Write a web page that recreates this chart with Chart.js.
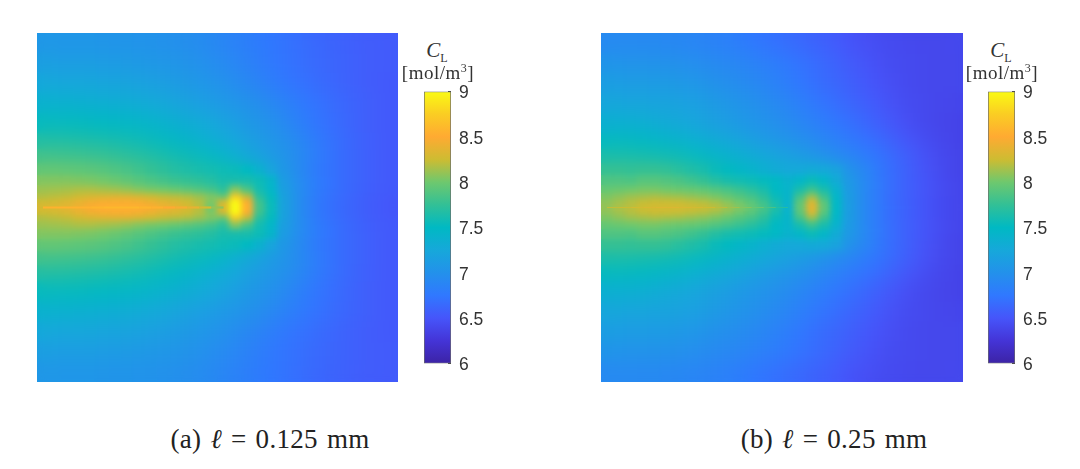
<!DOCTYPE html>
<html>
<head>
<meta charset="utf-8">
<title>CL</title>
<script src="https://cdn.jsdelivr.net/npm/chart.js@4"></script>
<style>
  body { margin: 0; background: #fff; width: 1080px; height: 469px; overflow: hidden; position: relative; }
  .box { position: absolute; }
  .lbl { position: absolute; font-family: "Liberation Serif", serif; color: #333; white-space: nowrap; transform: translateX(-50%); }
  .lbl i sub { font-style: normal; font-size: 12px; }
  .lbl sup { font-size: 12px; line-height: 0; }
  .unit { font-size: 19px; letter-spacing: 0.5px; }
  .cap { font-size: 27px; color: #222; letter-spacing: 0.3px; word-spacing: 2px; }
</style>
</head>
<body>
<div class="box" style="left:37px;top:33px;width:361px;height:349px"><canvas id="heatA"></canvas></div>
<div class="box" style="left:601px;top:33px;width:362px;height:349px"><canvas id="heatB"></canvas></div>
<div class="box" style="left:424px;top:70px;width:70px;height:315px"><canvas id="barA"></canvas></div>
<div class="box" style="left:988px;top:70px;width:70px;height:315px"><canvas id="barB"></canvas></div>

<div class="lbl" style="left:437px;top:38px;font-size:21px"><i>C<sub>L</sub></i></div>
<div class="lbl unit" style="left:438px;top:62px">[mol/m<sup>3</sup>]</div>
<div class="lbl" style="left:1001px;top:38px;font-size:21px"><i>C<sub>L</sub></i></div>
<div class="lbl unit" style="left:1002px;top:62px">[mol/m<sup>3</sup>]</div>
<div class="lbl cap" style="left:270px;top:424px">(a) <i>ℓ</i> = 0.125 mm</div>
<div class="lbl cap" style="left:834px;top:424px">(b) <i>ℓ</i> = 0.25 mm</div>

<script>
// columns across each panel
const columns = ['c0','c1','c2','c3','c4','c5','c6','c7','c8','c9','c10','c11','c12','c13','c14',
  'c15','c16','c17','c18','c19','c20','c21','c22','c23','c24','c25','c26','c27','c28','c29'];
// band thickness from the top edge to the crack line (mirrored below it)
const bands = [20, 20, 20, 20, 20, 16, 14, 12, 10, 8, 6, 4, 4];

// panel (a), concentration per band, top to crack line
const a0 = [7.06,7.06,7.05,7.05,7.05,7.04,7.03,7.03,7.02,7.01,7.0,6.99,6.97,6.95,6.92,6.89,6.85,6.82,6.78,6.75,6.72,6.69,6.66,6.63,6.61,6.59,6.57,6.56,6.55,6.54];
const a1 = [7.14,7.14,7.13,7.13,7.13,7.12,7.11,7.1,7.09,7.07,7.06,7.04,7.02,7.0,6.96,6.93,6.89,6.85,6.81,6.76,6.73,6.7,6.67,6.64,6.62,6.6,6.58,6.56,6.55,6.54];
const a2 = [7.25,7.25,7.24,7.24,7.23,7.22,7.21,7.2,7.18,7.16,7.14,7.12,7.09,7.06,7.03,7.0,6.95,6.91,6.86,6.81,6.76,6.72,6.69,6.66,6.63,6.6,6.58,6.56,6.54,6.53];
const a3 = [7.38,7.38,7.37,7.36,7.35,7.34,7.33,7.31,7.29,7.27,7.25,7.22,7.18,7.15,7.12,7.08,7.04,7.01,6.97,6.91,6.86,6.8,6.75,6.71,6.67,6.63,6.6,6.57,6.55,6.53];
const a4 = [7.53,7.53,7.52,7.52,7.51,7.5,7.49,7.47,7.45,7.42,7.39,7.36,7.33,7.29,7.25,7.2,7.15,7.09,7.04,7.0,6.93,6.86,6.78,6.73,6.68,6.64,6.6,6.57,6.55,6.53];
const a5 = [7.68,7.68,7.67,7.66,7.65,7.64,7.62,7.6,7.58,7.55,7.52,7.49,7.44,7.39,7.34,7.29,7.24,7.18,7.12,7.06,7.01,6.94,6.86,6.77,6.71,6.66,6.61,6.58,6.55,6.53];
const a6 = [7.82,7.82,7.81,7.8,7.79,7.77,7.75,7.73,7.7,7.67,7.64,7.6,7.57,7.54,7.51,7.44,7.34,7.25,7.18,7.1,7.03,6.97,6.88,6.78,6.72,6.66,6.62,6.58,6.55,6.53];
const a7 = [7.95,7.95,7.94,7.93,7.92,7.9,7.87,7.84,7.8,7.76,7.72,7.68,7.65,7.62,7.6,7.57,7.55,7.5,7.38,7.22,7.07,6.96,6.84,6.75,6.7,6.66,6.62,6.58,6.55,6.53];
const a8 = [8.05,8.05,8.05,8.04,8.03,8.01,7.98,7.94,7.9,7.86,7.82,7.78,7.75,7.72,7.68,7.62,7.62,7.62,7.56,7.42,7.12,6.99,6.88,6.78,6.72,6.66,6.62,6.58,6.55,6.53];
const a9 = [8.12,8.13,8.14,8.16,8.16,8.14,8.12,8.09,8.05,8.02,8.0,7.96,7.92,7.88,7.82,7.72,8.05,7.85,7.6,7.45,7.14,7.0,6.88,6.78,6.72,6.66,6.62,6.58,6.55,6.53];
const a10 = [8.18,8.2,8.22,8.26,8.3,8.32,8.33,8.33,8.3,8.26,8.22,8.2,8.17,8.12,8.05,7.95,8.7,8.2,7.7,7.52,7.19,7.0,6.86,6.76,6.7,6.65,6.61,6.57,6.54,6.52];
const a11 = [8.25,8.28,8.32,8.38,8.42,8.46,8.48,8.48,8.44,8.38,8.33,8.3,8.25,8.18,8.05,8.3,9.0,8.5,7.8,7.54,7.2,7.0,6.86,6.75,6.69,6.64,6.6,6.56,6.53,6.51];
const a12 = [8.3,8.32,8.36,8.42,8.48,8.52,8.54,8.54,8.52,8.48,8.42,8.37,8.3,8.2,8.0,8.3,9.0,8.55,7.82,7.55,7.2,7.0,6.85,6.74,6.68,6.63,6.59,6.56,6.53,6.51];

// panel (b)
const b0 = [6.93,6.93,6.93,6.92,6.92,6.91,6.9,6.89,6.87,6.85,6.83,6.8,6.76,6.73,6.7,6.67,6.64,6.61,6.58,6.54,6.5,6.47,6.45,6.43,6.42,6.41,6.4,6.4,6.4,6.41];
const b1 = [7.03,7.03,7.02,7.02,7.01,7.0,6.99,6.97,6.95,6.93,6.91,6.89,6.86,6.83,6.8,6.76,6.72,6.68,6.64,6.6,6.55,6.52,6.48,6.45,6.43,6.42,6.41,6.4,6.4,6.4];
const b2 = [7.13,7.13,7.12,7.12,7.11,7.1,7.08,7.06,7.03,7.0,6.98,6.95,6.92,6.89,6.85,6.8,6.75,6.7,6.66,6.62,6.58,6.54,6.5,6.47,6.44,6.42,6.41,6.4,6.4,6.4];
const b3 = [7.23,7.23,7.22,7.22,7.21,7.2,7.18,7.16,7.13,7.1,7.06,7.03,7.0,6.96,6.92,6.88,6.83,6.77,6.72,6.68,6.63,6.59,6.55,6.5,6.46,6.43,6.42,6.4,6.39,6.39];
const b4 = [7.36,7.36,7.35,7.34,7.31,7.28,7.26,7.23,7.2,7.16,7.13,7.09,7.05,7.02,6.99,6.95,6.9,6.85,6.8,6.75,6.7,6.65,6.6,6.55,6.5,6.45,6.42,6.4,6.38,6.37];
const b5 = [7.52,7.52,7.51,7.5,7.48,7.45,7.42,7.38,7.34,7.3,7.27,7.22,7.17,7.12,7.08,7.04,7.0,6.96,6.9,6.85,6.79,6.74,6.69,6.63,6.57,6.51,6.46,6.42,6.39,6.37];
const b6 = [7.64,7.64,7.63,7.62,7.6,7.58,7.56,7.53,7.5,7.45,7.4,7.36,7.32,7.27,7.23,7.18,7.13,7.06,7.0,6.94,6.88,6.82,6.76,6.7,6.63,6.57,6.5,6.45,6.41,6.38];
const b7 = [7.76,7.76,7.75,7.76,7.76,7.74,7.7,7.66,7.62,7.55,7.51,7.46,7.41,7.35,7.3,7.26,7.26,7.28,7.26,7.2,7.05,6.96,6.83,6.72,6.64,6.58,6.5,6.46,6.41,6.38];
const b8 = [7.87,7.87,7.86,7.9,7.9,7.88,7.85,7.8,7.75,7.68,7.62,7.59,7.56,7.52,7.48,7.4,7.45,7.55,7.45,7.3,7.1,6.96,6.83,6.72,6.64,6.58,6.52,6.47,6.42,6.39];
const b9 = [7.96,7.98,8.0,8.02,8.02,8.0,7.98,7.96,7.93,7.88,7.83,7.77,7.7,7.62,7.5,7.42,7.62,7.78,7.62,7.4,7.12,6.96,6.83,6.72,6.64,6.58,6.52,6.47,6.42,6.39];
const b10 = [8.04,8.08,8.12,8.14,8.16,8.14,8.13,8.1,8.07,8.03,7.97,7.9,7.83,7.72,7.55,7.42,7.82,8.1,7.8,7.45,7.13,6.96,6.83,6.72,6.64,6.58,6.52,6.47,6.42,6.39];
const b11 = [8.08,8.13,8.18,8.22,8.24,8.24,8.23,8.2,8.17,8.12,8.05,7.98,7.9,7.78,7.6,7.42,7.92,8.32,7.9,7.47,7.14,6.96,6.83,6.72,6.64,6.58,6.52,6.47,6.42,6.39];
const b12 = [8.1,8.16,8.2,8.25,8.28,8.28,8.28,8.26,8.24,8.2,8.13,8.05,7.96,7.84,7.65,7.38,7.95,8.35,7.95,7.48,7.14,6.96,6.83,6.72,6.64,6.58,6.52,6.47,6.42,6.39];

// concentration along the crack faces
const crackA = [8.56,8.56,8.56,8.56,8.58,8.6,8.6,8.6,8.58,8.55,8.5,8.45,8.38,8.28,8.1,7.8];
const crackB = [8.22,8.24,8.27,8.3,8.32,8.32,8.3,8.28,8.25,8.2,8.13,8.05,7.97,7.85,7.68,7.45];

const barTicks = [6, 6.5, 7, 7.5, 8, 8.5, 9];
const barLabels = ['6', '6.5', '7', '7.5', '8', '8.5', '9'];

// colormap, one stop per 0.25 from 6 to 9
const ramp = [[60,35,165],[68,52,215],[70,85,250],[48,120,255],[35,145,235],[22,168,218],[0,185,195],
  [50,192,150],[110,200,110],[205,188,50],[255,170,50],[250,205,35],[250,250,20]];

function colorOf(v) {
  const t = Math.min(0.9999, Math.max(0, (v - 6) / 3)) * (ramp.length - 1);
  const i = Math.floor(t), f = t - i;
  const c = ramp[i].map((n, k) => Math.round(n + (ramp[i + 1][k] - n) * f));
  return 'rgb(' + c.join(',') + ')';
}

// soften the blocks of the bands before the crack line goes on top
// heavier away from the crack and the tip, where the bands are thick
const softenPlugin = {
  id: 'soften',
  beforeDatasetDraw(chart, args) {
    if (args.meta.type !== 'line') return;
    const c = chart.ctx, w = chart.canvas.width, h = chart.canvas.height;
    c.save();
    c.setTransform(1, 0, 0, 1, 0, 0);
    c.beginPath();
    c.rect(0, 0, w, h);
    c.rect(0, h / 2 - 42, w * 0.68, 84);
    c.clip('evenodd');
    c.filter = 'blur(9px)';
    c.drawImage(chart.canvas, 0, 0);
    c.restore();
    c.save();
    c.setTransform(1, 0, 0, 1, 0, 0);
    c.filter = 'blur(3px)';
    c.drawImage(chart.canvas, 0, 0);
    c.restore();
  }
};

function heatmap(id, halfRows, crack, crackWidth) {
  const rows = [...halfRows, ...halfRows.slice().reverse()];
  const heights = [...bands, ...bands.slice().reverse()];
  const total = heights.reduce((s, h) => s + h, 0);
  const datasets = rows.map((row, i) => ({
    type: 'bar',
    order: 1,
    data: columns.map(() => heights[i]),
    backgroundColor: row.map(colorOf),
    barPercentage: 1,
    categoryPercentage: 1,
    stack: 'field'
  }));
  datasets.push({
    type: 'line',
    order: 0,
    data: crack.map(() => total / 2),
    borderWidth: crackWidth,
    pointRadius: 0,
    segment: { borderColor: ctx => colorOf(crack[ctx.p0DataIndex]) }
  });
  return new Chart(document.getElementById(id), {
    data: { labels: columns, datasets },
    plugins: [softenPlugin],
    options: {
      responsive: true,
      maintainAspectRatio: false,
      animation: false,
      layout: { padding: 0, autoPadding: false },
      plugins: { legend: { display: false }, tooltip: { enabled: false } },
      scales: {
        x: { display: false, stacked: true },
        y: { display: false, stacked: true, min: 0, max: total }
      }
    }
  });
}

function colorbar(id) {
  return new Chart(document.getElementById(id), {
    type: 'bar',
    data: {
      labels: ['CL'],
      datasets: [{
        data: [[6, 9]],
        barPercentage: 1,
        categoryPercentage: 1,
        borderWidth: 1,
        borderColor: '#6b6b6b',
        borderSkipped: false,
        backgroundColor(ctx) {
          const area = ctx.chart.chartArea;
          if (!area) return 'rgb(0,185,195)';
          const g = ctx.chart.ctx.createLinearGradient(0, area.bottom, 0, area.top);
          ramp.forEach((c, i) => g.addColorStop(i / (ramp.length - 1), 'rgb(' + c.join(',') + ')'));
          return g;
        }
      }]
    },
    options: {
      responsive: true,
      maintainAspectRatio: false,
      animation: false,
      layout: { padding: { top: 1, bottom: 2, left: 0, right: 0 }, autoPadding: false },
      plugins: { legend: { display: false }, tooltip: { enabled: false } },
      scales: {
        x: { display: false },
        y: {
          position: 'right',
          min: 6,
          max: 9,
          afterFit(scale) { scale.width = 43; },
          afterBuildTicks(scale) { scale.ticks = barTicks.map(v => ({ value: v })); },
          border: { display: false },
          grid: { drawOnChartArea: false, tickLength: -3, tickColor: '#444', tickWidth: 1 },
          ticks: {
            padding: 11,
            labelOffset: 2,
            color: '#333',
            font: { family: '"Liberation Sans", Arial, sans-serif', size: 17.5 },
            callback: v => barLabels[barTicks.indexOf(v)]
          }
        }
      }
    }
  });
}

heatmap('heatA', [a0,a1,a2,a3,a4,a5,a6,a7,a8,a9,a10,a11,a12], crackA, 2.2);
heatmap('heatB', [b0,b1,b2,b3,b4,b5,b6,b7,b8,b9,b10,b11,b12], crackB, 1);
colorbar('barA');
colorbar('barB');
</script>
</body>
</html>
